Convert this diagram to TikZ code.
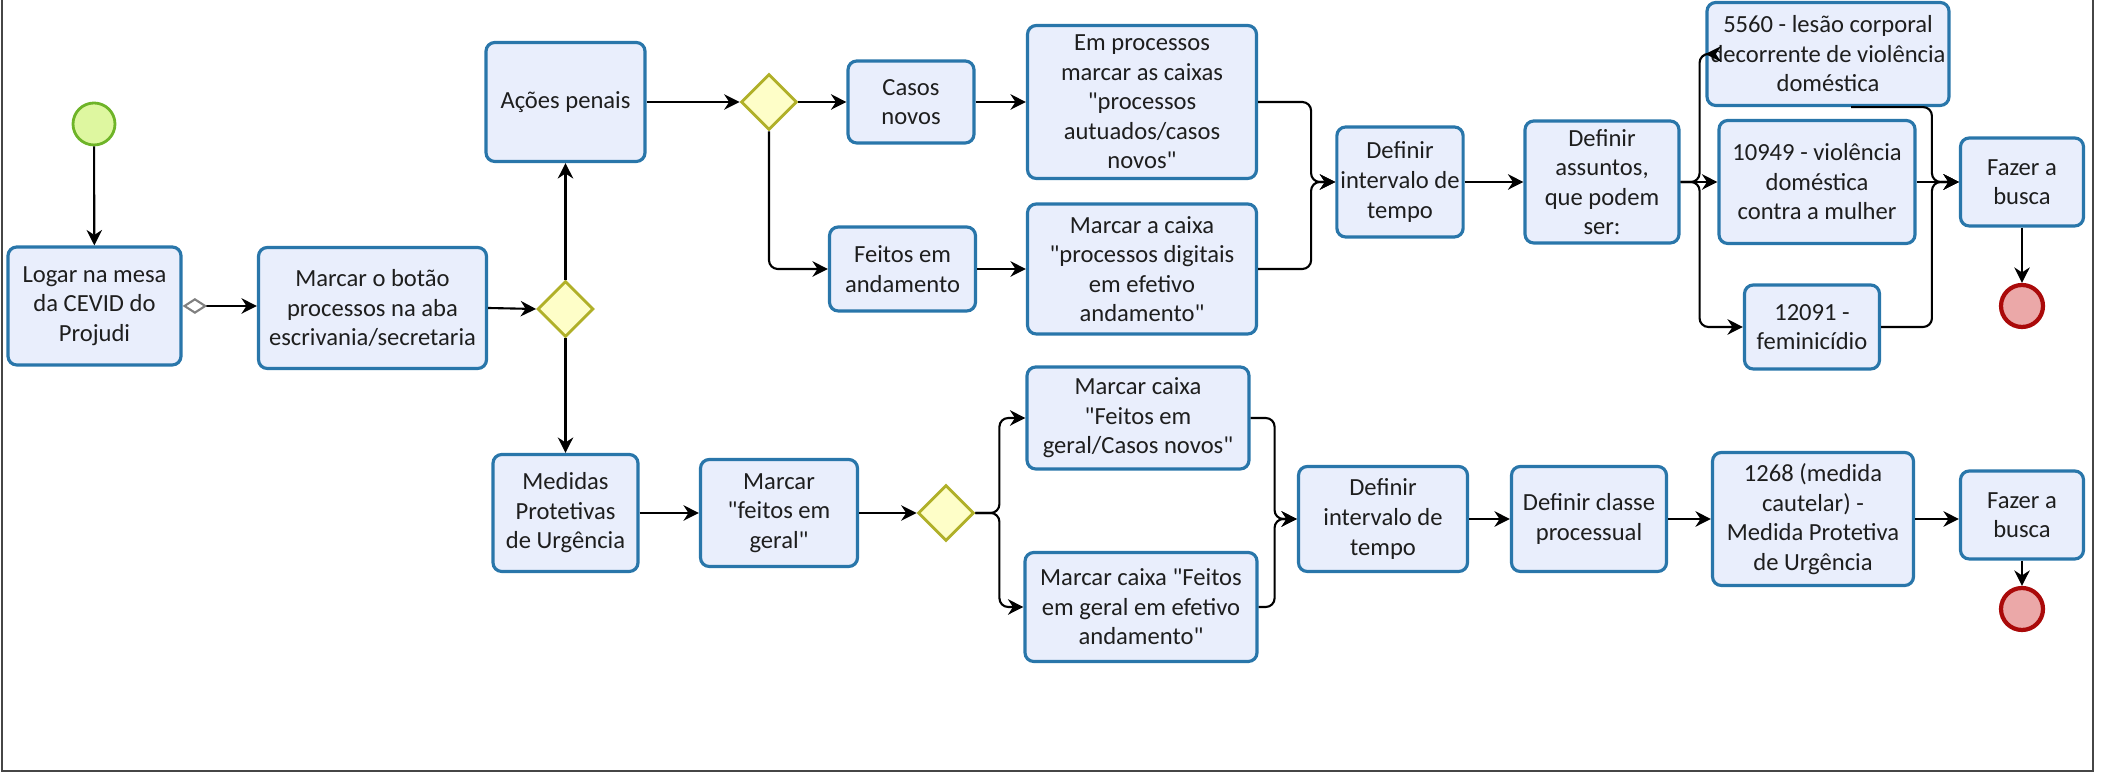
\documentclass[tikz,border=0pt]{standalone}
\usepackage{fontspec}
\setmainfont{Carlito}[Ligatures=TeXOff]
\usepackage{tikz}
\usetikzlibrary{arrows.meta,shapes.geometric}
\definecolor{bpblue}{RGB}{41,118,170}
\definecolor{bplight}{RGB}{233,238,252}
\definecolor{bpgate}{RGB}{176,176,40}
\definecolor{bpgatefill}{RGB}{254,254,200}
\definecolor{bpgreen}{RGB}{110,180,40}
\definecolor{bpgreenfill}{RGB}{222,247,160}
\definecolor{bpred}{RGB}{170,10,10}
\definecolor{bpredfill}{RGB}{235,168,168}
\definecolor{bpframe}{RGB}{70,70,70}
\definecolor{bptext}{RGB}{30,30,30}
\tikzset{
  tasknode/.style={rectangle,draw=bpblue,line width=0.9pt,rounded corners=2.5pt,fill=bplight,
    align=center,inner sep=1pt,text=bptext},
  gatenode/.style={diamond,draw=bpgate,line width=0.8pt,fill=bpgatefill,aspect=1,
    minimum width=0.56cm,minimum height=0.56cm,inner sep=0pt},
  startnode/.style={circle,draw=bpgreen,line width=0.8pt,fill=bpgreenfill,minimum size=0.42cm,inner sep=0pt},
  endnode/.style={circle,draw=bpred,line width=1.2pt,fill=bpredfill,minimum size=0.42cm,inner sep=0pt},
  flowarrow/.style={-{Stealth[length=4.4pt,width=4.4pt]},line width=0.6pt,rounded corners=2.5pt},
  defaultflow/.style={flowarrow,{Diamond[open,length=7pt,width=4.5pt,color=gray]}-{Stealth[length=4.4pt,width=4.4pt]}}
}

\begin{document}
\begin{tikzpicture}[font=\fontsize{7}{8.4}\selectfont]
  \useasboundingbox (0,0) rectangle (21.01,7.74);
  \draw[bpframe,line width=0.8pt] (0.02,7.74) -- (0.02,0.03) -- (20.93,0.03) -- (20.93,7.74);
  % upper branch
  \node[startnode] (start) at (0.94,6.50) {};
  \node[tasknode,minimum width=1.73cm,minimum height=1.18cm] (logar) at (0.945,4.68) {Logar na mesa\\da CEVID do\\Projudi};
  \node[tasknode,minimum width=2.28cm,minimum height=1.21cm] (botao) at (3.725,4.66) {Marcar o botão\\processos na aba\\escrivania/secretaria};
  \node[gatenode] (gw1) at (5.655,4.65) {};
  \node[tasknode,minimum width=1.59cm,minimum height=1.19cm] (acoes) at (5.655,6.72) {Ações penais};
  \node[gatenode] (gw2) at (7.69,6.72) {};
  \node[tasknode,minimum width=1.26cm,minimum height=0.82cm] (casos) at (9.11,6.72) {Casos\\novos};
  \node[tasknode,minimum width=2.29cm,minimum height=1.53cm] (emproc) at (11.42,6.72) {Em processos\\marcar as caixas\\"processos\\autuados/casos\\novos"};
  \node[tasknode,minimum width=1.46cm,minimum height=0.84cm] (feitos) at (9.025,5.05) {Feitos em\\andamento};
  \node[tasknode,minimum width=2.29cm,minimum height=1.30cm] (marcaixa) at (11.42,5.05) {Marcar a caixa\\"processos digitais\\em efetivo\\andamento"};
  \node[tasknode,minimum width=1.07cm,minimum height=1.10cm] (defint1) at (14.00,5.92) {Definir\\intervalo de\\tempo};
  \node[tasknode,minimum width=1.54cm,minimum height=1.22cm] (defass) at (16.02,5.92) {Definir\\assuntos,\\que podem\\ser:};
  \node[tasknode,minimum width=2.30cm,minimum height=1.03cm] (lesao) at (18.28,7.20) {5560 - lesão corporal\\decorrente de violência\\doméstica};
  \node[tasknode,minimum width=1.96cm,minimum height=1.23cm] (violencia) at (18.17,5.92) {10949 - violência\\doméstica\\contra a mulher};
  \node[tasknode,minimum width=1.35cm,minimum height=0.84cm] (feminicidio) at (18.12,4.47) {12091 -\\feminicídio};
  \node[tasknode,minimum width=1.23cm,minimum height=0.88cm] (busca1) at (20.22,5.92) {Fazer a\\busca};
  \node[endnode] (end1) at (20.22,4.68) {};
  % lower branch
  \node[tasknode,minimum width=1.45cm,minimum height=1.17cm] (medidas) at (5.655,2.61) {Medidas\\Protetivas\\de Urgência};
  \node[tasknode,minimum width=1.57cm,minimum height=1.07cm] (feitosger) at (7.79,2.61) {Marcar\\"feitos em\\geral"};
  \node[gatenode] (gw3) at (9.46,2.61) {};
  \node[tasknode,minimum width=2.22cm,minimum height=1.02cm] (fgcasos) at (11.38,3.56) {Marcar caixa\\"Feitos em\\geral/Casos novos"};
  \node[tasknode,minimum width=2.32cm,minimum height=1.09cm] (fgandam) at (11.41,1.67) {Marcar caixa "Feitos\\em geral em efetivo\\andamento"};
  \node[tasknode,minimum width=1.69cm,minimum height=1.05cm] (defint2) at (13.83,2.55) {Definir\\intervalo de\\tempo};
  \node[tasknode,minimum width=1.55cm,minimum height=1.05cm] (defclasse) at (15.89,2.55) {Definir classe\\processual};
  \node[tasknode,minimum width=2.01cm,minimum height=1.33cm] (cautelar) at (18.13,2.55) {1268 (medida\\cautelar) -\\Medida Protetiva\\de Urgência};
  \node[tasknode,minimum width=1.23cm,minimum height=0.88cm] (busca2) at (20.22,2.59) {Fazer a\\busca};
  \node[endnode] (end2) at (20.22,1.65) {};
  % flows
  \draw[flowarrow] (start) -- (logar);
  \draw[defaultflow] (logar.east) -- (logar.east -| botao.west);
  \draw[flowarrow] (botao.east) -- (gw1.west);
  \draw[flowarrow] (gw1.north) -- (acoes.south);
  \draw[flowarrow] (gw1.south) -- (medidas.north);
  \draw[flowarrow] (acoes.east) -- (gw2.west);
  \draw[flowarrow] (gw2.east) -- (casos.west);
  \draw[flowarrow] (gw2.south) |- (feitos.west);
  \draw[flowarrow] (casos.east) -- (emproc.west);
  \draw[flowarrow] (feitos.east) -- (marcaixa.west);
  \draw[flowarrow] (emproc.east) -- ++(0.53,0) |- (defint1.west);
  \draw[flowarrow] (marcaixa.east) -- ++(0.53,0) |- (defint1.west);
  \draw[flowarrow] (defint1) -- (defass);
  \draw[flowarrow] (defass.east) -- ++(0.19,0) |- (lesao.west);
  \draw[flowarrow] (defass.east) -- (violencia.west);
  \draw[flowarrow] (defass.east) -- ++(0.19,0) |- (feminicidio.west);
  \draw[flowarrow] ([xshift=0.23cm]lesao.south) -| ([xshift=-0.27cm]busca1.west) -- (busca1.west);
  \draw[flowarrow] (violencia.east) -- (busca1.west);
  \draw[flowarrow] (feminicidio.east) -| ([xshift=-0.27cm]busca1.west) -- (busca1.west);
  \draw[flowarrow] (busca1) -- (end1);
  \draw[flowarrow] (medidas) -- (feitosger);
  \draw[flowarrow] (feitosger) -- (gw3);
  \draw[flowarrow] (gw3.east) -- ++(0.24,0) |- (fgcasos.west);
  \draw[flowarrow] (gw3.east) -- ++(0.24,0) |- (fgandam.west);
  \draw[flowarrow] (fgcasos.east) -- ++(0.24,0) |- (defint2.west);
  \draw[flowarrow] (fgandam.east) -- ++(0.16,0) |- (defint2.west);
  \draw[flowarrow] (defint2) -- (defclasse);
  \draw[flowarrow] (defclasse) -- (cautelar);
  \draw[flowarrow] (cautelar.east) -- (cautelar.east -| busca2.west);
  \draw[flowarrow] (busca2) -- (end2);
\end{tikzpicture}
\end{document}
